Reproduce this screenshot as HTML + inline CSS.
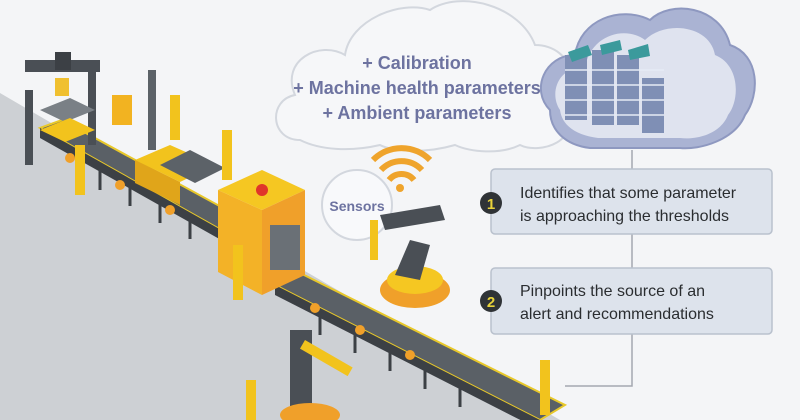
<!DOCTYPE html>
<html><head><meta charset="utf-8"><style>
html,body{margin:0;padding:0;background:#f4f5f7;}
svg{display:block}
text{font-family:"Liberation Sans",sans-serif}
</style></head><body>
<svg width="800" height="420" viewBox="0 0 800 420" xmlns="http://www.w3.org/2000/svg">
<rect width="800" height="420" fill="#f4f5f7"/>
<!-- floor -->
<polygon points="0,93 560,420 0,420" fill="#cdd0d4"/>
<!-- thought cloud -->
<path d="M300,140 C270,140 268,100 295,95 C280,60 320,40 345,55 C350,20 400,0 430,10 C460,-10 520,5 535,45 C575,45 585,95 560,110 C585,140 540,155 520,145 C500,155 470,152 455,145 C420,155 390,150 380,145 C350,152 320,150 300,140 Z" fill="#f6f7f9" stroke="#d3d7de" stroke-width="2"/>
<text x="417" y="69" text-anchor="middle" font-size="18" font-weight="bold" fill="#6d73a0">+ Calibration</text>
<text x="417" y="94" text-anchor="middle" font-size="18" font-weight="bold" fill="#6d73a0">+ Machine health parameters</text>
<text x="417" y="119" text-anchor="middle" font-size="18" font-weight="bold" fill="#6d73a0">+ Ambient parameters</text>
<!-- server cloud -->
<path d="M550,110 C530,90 545,55 575,55 C580,20 620,5 650,20 C670,0 720,5 730,45 C760,55 760,95 745,115 C735,140 700,150 680,148 L590,148 C565,145 550,130 550,110 Z" fill="#aab3d3" stroke="#8e98c0" stroke-width="2"/>
<path d="M560,110 C548,92 560,65 585,68 C590,35 625,25 645,40 C665,20 710,25 715,55 C740,65 740,100 728,115 C720,135 695,140 680,138 L598,138 C575,135 562,125 560,110 Z" fill="#dfe3ef"/>
<g fill="#7f8fb5">
<rect x="565" y="55" width="22" height="65"/><rect x="592" y="50" width="22" height="75"/><rect x="617" y="55" width="22" height="70"/><rect x="642" y="78" width="22" height="55"/>
</g>
<g fill="#3b9a9c"><polygon points="568,52 588,45 592,55 572,62"/><polygon points="600,45 620,40 622,50 602,55"/><polygon points="628,50 648,44 650,56 630,60"/></g>
<g stroke="#e6ebf5" stroke-width="1.5">
<line x1="565" y1="70" x2="664" y2="70"/><line x1="565" y1="85" x2="664" y2="85"/><line x1="565" y1="100" x2="664" y2="100"/><line x1="565" y1="115" x2="664" y2="115"/>
</g>
<!-- connector -->
<path d="M632,150 V386 H565" fill="none" stroke="#a4a8b0" stroke-width="1.5"/>
<!-- boxes -->
<rect x="491" y="169" width="281" height="65" rx="4" fill="#dde3ec" stroke="#b9c1cd" stroke-width="1.5"/>
<rect x="491" y="268" width="281" height="66" rx="4" fill="#dde3ec" stroke="#b9c1cd" stroke-width="1.5"/>
<circle cx="491" cy="203" r="11" fill="#2f3336"/><text x="491" y="209" text-anchor="middle" font-size="15" font-weight="bold" fill="#e8d33a">1</text>
<circle cx="491" cy="301" r="11" fill="#2f3336"/><text x="491" y="307" text-anchor="middle" font-size="15" font-weight="bold" fill="#e8d33a">2</text>
<text x="520" y="198" font-size="16" fill="#2a2d30">Identifies that some parameter</text>
<text x="520" y="221" font-size="16" fill="#2a2d30">is approaching the thresholds</text>
<text x="520" y="296" font-size="16" fill="#2a2d30">Pinpoints the source of an</text>
<text x="520" y="319" font-size="16" fill="#2a2d30">alert and recommendations</text>
<!-- wifi -->
<g fill="none" stroke="#efa42c" stroke-width="6">
<path d="M373,160 A40,40 0 0 1 430,160"/><path d="M381,170 A28,28 0 0 1 422,170"/><path d="M389,180 A16,16 0 0 1 414,180"/>
</g>
<circle cx="400" cy="188" r="4" fill="#efa42c"/>
<!-- sensors -->
<circle cx="357" cy="205" r="35" fill="#f8f9fb" stroke="#d3d7de" stroke-width="2"/>
<text x="357" y="211" text-anchor="middle" font-size="14" font-weight="bold" fill="#6d73a0">Sensors</text>
<!-- conveyor upper -->
<polygon points="40,128 62,120 300,250 278,262" fill="#5a6066" stroke="#e8c82a" stroke-width="2"/>
<polygon points="40,128 278,262 278,272 40,138" fill="#3c4045"/>
<g stroke="#3c4045" stroke-width="3">
<line x1="100" y1="165" x2="100" y2="190"/><line x1="130" y1="181" x2="130" y2="206"/><line x1="160" y1="198" x2="160" y2="223"/><line x1="190" y1="214" x2="190" y2="239"/><line x1="220" y1="230" x2="220" y2="255"/>
</g>
<!-- conveyor lower -->
<polygon points="275,285 300,273 565,405 540,420" fill="#5a6066" stroke="#e8c82a" stroke-width="2"/>
<polygon points="275,285 540,420 540,430 275,295" fill="#3c4045"/>
<g stroke="#3c4045" stroke-width="3">
<line x1="320" y1="312" x2="320" y2="335"/><line x1="355" y1="330" x2="355" y2="353"/><line x1="390" y1="348" x2="390" y2="371"/><line x1="425" y1="366" x2="425" y2="389"/><line x1="460" y1="384" x2="460" y2="407"/>
</g>
<g fill="#f0a02a"><circle cx="70" cy="158" r="5"/><circle cx="120" cy="185" r="5"/><circle cx="170" cy="210" r="5"/><circle cx="315" cy="308" r="5"/><circle cx="360" cy="330" r="5"/><circle cx="410" cy="355" r="5"/></g>
<!-- left press machine -->
<rect x="25" y="90" width="8" height="75" fill="#4a4f55"/><rect x="88" y="65" width="8" height="80" fill="#4a4f55"/>
<rect x="25" y="60" width="75" height="12" fill="#4a4f55"/><rect x="55" y="52" width="16" height="18" fill="#3c4045"/>
<rect x="55" y="78" width="14" height="18" fill="#f0c030"/><polygon points="40,110 70,98 95,110 65,122" fill="#7a8086"/>
<polygon points="40,130 70,118 95,130 65,142" fill="#f2c31d"/>
<!-- second machine -->
<rect x="148" y="70" width="8" height="80" fill="#5c6268"/><rect x="112" y="95" width="20" height="30" fill="#f2b321"/>
<polygon points="135,160 170,145 215,165 180,182" fill="#f2c31d"/><polygon points="135,160 180,182 180,205 135,183" fill="#e0a51a"/>
<polygon points="160,165 190,150 225,168 195,183" fill="#5c6268"/>
<!-- big yellow machine -->
<polygon points="218,190 262,170 305,190 262,210" fill="#f5c722"/>
<polygon points="218,190 262,210 262,295 218,272" fill="#f3b227"/>
<polygon points="262,210 305,190 305,275 262,295" fill="#f0a02a"/>
<rect x="270" y="225" width="30" height="45" fill="#6a7076"/>
<circle cx="262" cy="190" r="6" fill="#e0352a"/>
<!-- robot arm right -->
<ellipse cx="415" cy="290" rx="35" ry="18" fill="#f0a02a"/><ellipse cx="415" cy="280" rx="28" ry="14" fill="#f5c722"/>
<polygon points="395,275 410,240 430,245 420,280" fill="#4a4f55"/>
<polygon points="380,215 440,205 445,220 385,230" fill="#4a4f55"/>
<rect x="370" y="220" width="8" height="40" fill="#f2c31d"/>
<!-- bottom robot -->
<rect x="290" y="330" width="22" height="80" fill="#4a4f55"/><rect x="305" y="340" width="55" height="10" fill="#f2c31d" transform="rotate(30 305 340)"/>
<ellipse cx="310" cy="415" rx="30" ry="12" fill="#f0a02a"/>
<!-- workers -->
<g fill="#f2c31d">
<rect x="75" y="145" width="10" height="50"/><rect x="170" y="95" width="10" height="45"/><rect x="222" y="130" width="10" height="50"/><rect x="233" y="245" width="10" height="55"/><rect x="246" y="380" width="10" height="40"/><rect x="540" y="360" width="10" height="55"/>
</g>
</svg>
</body></html>
